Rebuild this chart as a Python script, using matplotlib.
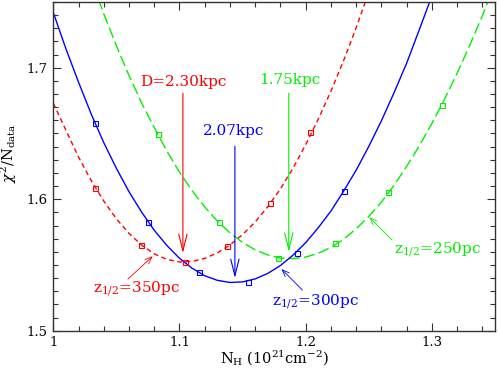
import matplotlib
matplotlib.use("Agg")
import matplotlib.pyplot as plt
from matplotlib.ticker import MultipleLocator

plt.rcParams["font.family"] = "DejaVu Serif"
plt.rcParams["mathtext.fontset"] = "dejavuserif"

# curves (N_H in 1e21 cm^-2, chi2/N)
blue_x = [1.00, 1.01, 1.02, 1.03, 1.04, 1.05, 1.06, 1.07, 1.08, 1.09, 1.10,
          1.11, 1.12, 1.13, 1.14, 1.15, 1.16, 1.17, 1.18, 1.19, 1.20,
          1.21, 1.22, 1.23, 1.24, 1.25, 1.26, 1.27, 1.28, 1.29, 1.30, 1.31]
blue_y = [1.742, 1.7144, 1.689, 1.6649, 1.643, 1.6235, 1.6057, 1.5902, 1.5764, 1.5648, 1.5551,
          1.5475, 1.5418, 1.5383, 1.5367, 1.5371, 1.5394, 1.5436, 1.5496, 1.5575, 1.567,
          1.5784, 1.591, 1.6061, 1.6221, 1.6402, 1.6597, 1.681, 1.7035, 1.7289, 1.7547, 1.782]
red_x = [1.00, 1.01, 1.02, 1.03, 1.04, 1.05, 1.06, 1.07, 1.08, 1.09, 1.10,
         1.11, 1.12, 1.13, 1.14, 1.15, 1.16, 1.17, 1.18, 1.19, 1.20,
         1.21, 1.22, 1.23, 1.24, 1.25, 1.26]
red_y = [1.6731, 1.6525, 1.6321, 1.6143, 1.5986, 1.5851, 1.574, 1.5651, 1.5584, 1.5542, 1.5523,
         1.5527, 1.555, 1.5592, 1.5652, 1.5731, 1.5827, 1.5944, 1.6079, 1.6237, 1.6416,
         1.661, 1.6822, 1.7054, 1.7305, 1.7575, 1.786]
green_x = [1.02, 1.03, 1.04, 1.05, 1.06, 1.07, 1.08, 1.09, 1.10,
           1.11, 1.12, 1.13, 1.14, 1.15, 1.16, 1.17, 1.18, 1.19, 1.20,
           1.21, 1.22, 1.23, 1.24, 1.25, 1.26, 1.27, 1.28, 1.29, 1.30,
           1.31, 1.32, 1.33, 1.34, 1.35, 1.36]
green_y = [1.795, 1.767, 1.741, 1.7167, 1.6941, 1.6732, 1.6545, 1.6366, 1.6206,
           1.6065, 1.5941, 1.5834, 1.5744, 1.5671, 1.5615, 1.5576, 1.5553, 1.5548, 1.556,
           1.5589, 1.5634, 1.5696, 1.5775, 1.5869, 1.5978, 1.6106, 1.625, 1.6406, 1.6577,
           1.6761, 1.6959, 1.7171, 1.7396, 1.7647, 1.7915]

# data points (squares)
blue_px = [1.0332, 1.0751, 1.1152, 1.1539, 1.1929, 1.2300]
blue_py = [1.658, 1.5828, 1.5443, 1.5372, 1.5592, 1.606]
red_px = [1.0332, 1.0691, 1.1041, 1.1378, 1.1719, 1.2037]
red_py = [1.6086, 1.5651, 1.5524, 1.5643, 1.5975, 1.6511]
green_px = [1.083, 1.131, 1.1779, 1.2229, 1.2656, 1.3078]
green_py = [1.6499, 1.5823, 1.5554, 1.5664, 1.6055, 1.6719]

RED, GREEN, BLUE = "#ff0000", "#00f000", "#0000ff"

fig = plt.figure(figsize=(4.99, 3.73), dpi=100)
ax = fig.add_axes([0.1068, 0.1134, 0.992 - 0.1068, 0.9946 - 0.1134])

ax.plot(red_x, red_y, color=RED, lw=1.0, dashes=(3.5, 2.5))
ax.plot(green_x, green_y, color=GREEN, lw=1.0, dashes=(8, 3))
ax.plot(blue_x, blue_y, color=BLUE, lw=1.0)

msq = dict(ls="none", marker="s", ms=3.6, mfc="none", mew=0.8)
ax.plot(red_px, red_py, mec=RED, **msq)
ax.plot(green_px, green_py, mec=GREEN, **msq)
ax.plot(blue_px, blue_py, mec=BLUE, **msq)

# vertical arrows at the minima
big = dict(arrowstyle="->,head_length=1.2,head_width=0.3", lw=0.8, shrinkA=0, shrinkB=0)
ax.annotate("", xy=(1.1027, 1.559), xytext=(1.1027, 1.6806),
            arrowprops=dict(color=RED, **big))
ax.text(1.1032, 1.6835, "D=2.30kpc", color=RED, fontsize=11, ha="center", va="bottom")
ax.annotate("", xy=(1.1439, 1.540), xytext=(1.1439, 1.6402),
            arrowprops=dict(color=BLUE, **big))
ax.text(1.1425, 1.6462, "2.07kpc", color=BLUE, fontsize=11, ha="center", va="bottom")
ax.annotate("", xy=(1.1866, 1.560), xytext=(1.1866, 1.6805),
            arrowprops=dict(color=GREEN, **big))
ax.text(1.1871, 1.685, "1.75kpc", color=GREEN, fontsize=11, ha="center", va="bottom")

# scale-height labels
small = dict(arrowstyle="->,head_length=0.5,head_width=0.2", lw=0.6, shrinkA=0, shrinkB=0)
ax.annotate("", xy=(1.0788, 1.5567), xytext=(1.0591, 1.5392),
            arrowprops=dict(color=RED, **small))
ax.text(1.0315, 1.5292, r"z$_{1/2}$=350pc", color=RED, fontsize=11, va="baseline")
ax.annotate("", xy=(1.1808, 1.5469), xytext=(1.1974, 1.5309),
            arrowprops=dict(color=BLUE, **small))
ax.text(1.1729, 1.5195, r"z$_{1/2}$=300pc", color=BLUE, fontsize=11, va="baseline")
ax.annotate("", xy=(1.2504, 1.5863), xytext=(1.2685, 1.5689),
            arrowprops=dict(color=GREEN, **small))
ax.text(1.2701, 1.559, r"z$_{1/2}$=250pc", color=GREEN, fontsize=11, va="baseline")

ax.set_xlim(1.0, 1.35)
ax.set_ylim(1.5, 1.75)
ax.xaxis.set_major_locator(MultipleLocator(0.1))
ax.xaxis.set_minor_locator(MultipleLocator(0.02))
ax.yaxis.set_major_locator(MultipleLocator(0.1))
ax.yaxis.set_minor_locator(MultipleLocator(0.01))
ax.set_xticks([1.0, 1.1, 1.2, 1.3])
ax.set_xticklabels(["1", "1.1", "1.2", "1.3"])
ax.tick_params(which="both", direction="in", top=True, right=True, labelsize=9.5,
               color="#333333", width=0.8, pad=4)
ax.tick_params(which="major", length=5.8)
ax.tick_params(which="minor", length=3.6)
for s in ax.spines.values():
    s.set_linewidth(1.0)
    s.set_color("#333333")

ax.set_xlabel(r"N$_{\rm H}$ (10$^{21}$cm$^{-2}$)", fontsize=10.5)
ax.set_ylabel(r"$\chi^2$/N$_{\rm data}$", fontsize=10.5)
ax.xaxis.set_label_coords(0.5, -0.055)
ax.yaxis.set_label_coords(-0.078, 0.54)

fig.savefig("out.png", dpi=100)
